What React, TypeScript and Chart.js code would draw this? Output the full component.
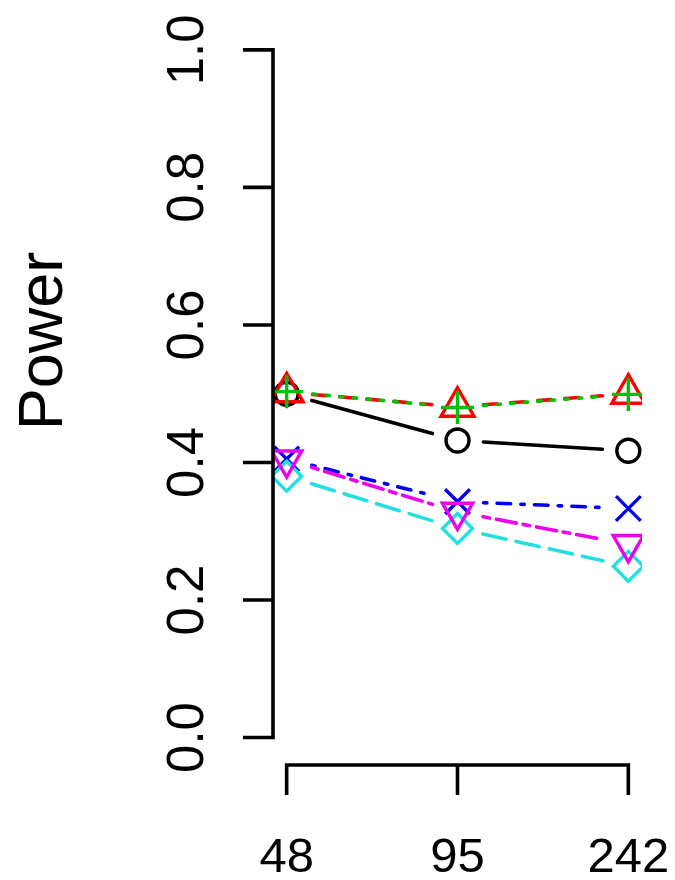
import { useEffect, useRef } from "react";
import { Chart, registerables } from "chart.js";

Chart.register(...registerables);

// Sample sizes on the x axis (evenly spaced positions 1..3)
const sampleSizes = ["48", "95", "242"];
const yTickValues = [0, 0.2, 0.4, 0.6, 0.8, 1.0];
const yTickLabels = ["0.0", "0.2", "0.4", "0.6", "0.8", "1.0"];
const yTitle = "Power";

// Estimated power per method
const powerCircle = [0.5, 0.432, 0.417];
const powerTriangle = [0.502, 0.481, 0.5];
const powerPlus = [0.503, 0.48, 0.499];
const powerCross = [0.405, 0.343, 0.333];
const powerDiamond = [0.38, 0.304, 0.249];
const powerDownTriangle = [0.404, 0.328, 0.281];

const LINE_WIDTH = 3.6;
const AXIS_WIDTH = 3.6;
const GAP = 26; // space left around each marker, like R's type = "b"
const U = 3.4; // dash unit

const FONT = "'Liberation Sans', Arial, Helvetica, sans-serif";

type Series = {
  label: string;
  values: number[];
  color: string;
  pointStyle: string;
  radius: number;
  rotation: number;
  dash: number[];
};

const series: Series[] = [
  { label: "circle", values: powerCircle, color: "#000000", pointStyle: "circle", radius: 11.5, rotation: 0, dash: [] },
  { label: "triangle", values: powerTriangle, color: "#ff0000", pointStyle: "triangle", radius: 19, rotation: 0, dash: [4 * U, 4 * U] },
  { label: "plus", values: powerPlus, color: "#00c000", pointStyle: "cross", radius: 16.5, rotation: 0, dash: [1 * U, 3 * U] },
  { label: "cross", values: powerCross, color: "#0000ee", pointStyle: "crossRot", radius: 17.5, rotation: 0, dash: [1 * U, 3 * U, 4 * U, 3 * U] },
  { label: "diamond", values: powerDiamond, color: "#22e0e0", pointStyle: "rectRot", radius: 15, rotation: 0, dash: [7 * U, 3 * U] },
  { label: "downTriangle", values: powerDownTriangle, color: "#ee00ee", pointStyle: "triangle", radius: 17.5, rotation: 180, dash: [2 * U, 2 * U, 6 * U, 2 * U] },
];

// Line segments between markers, leaving a gap around each marker
const gapLines = {
  id: "gapLines",
  beforeDatasetDraw(chart: any, args: any) {
    const ds = chart.data.datasets[args.index];
    const pts = args.meta.data;
    const ctx = chart.ctx;
    ctx.save();
    ctx.strokeStyle = ds.borderColor;
    ctx.lineWidth = LINE_WIDTH;
    ctx.lineCap = "round";
    ctx.setLineDash(ds.borderDash || []);
    for (let i = 0; i < pts.length - 1; i++) {
      const a = pts[i];
      const b = pts[i + 1];
      const dx = b.x - a.x;
      const dy = b.y - a.y;
      const len = Math.hypot(dx, dy);
      if (len <= 2 * GAP) continue;
      const ux = dx / len;
      const uy = dy / len;
      ctx.lineDashOffset = 0;
      ctx.beginPath();
      ctx.moveTo(a.x + ux * GAP, a.y + uy * GAP);
      ctx.lineTo(b.x - ux * GAP, b.y - uy * GAP);
      ctx.stroke();
    }
    ctx.restore();
  },
};

// R-style detached axes with rotated y tick labels
const rAxes = {
  id: "rAxes",
  afterDraw(chart: any) {
    const ctx = chart.ctx;
    const xs = chart.scales.x;
    const ys = chart.scales.y;
    const area = chart.chartArea;
    const tick = 30;
    ctx.save();
    ctx.strokeStyle = "#000";
    ctx.fillStyle = "#000";
    ctx.lineWidth = AXIS_WIDTH;
    ctx.lineCap = "butt";
    ctx.setLineDash([]);

    // y axis
    const yx = area.left;
    ctx.beginPath();
    ctx.moveTo(yx, ys.getPixelForValue(yTickValues[0]) + AXIS_WIDTH / 2);
    ctx.lineTo(yx, ys.getPixelForValue(yTickValues[yTickValues.length - 1]) - AXIS_WIDTH / 2);
    yTickValues.forEach((v) => {
      const py = ys.getPixelForValue(v);
      ctx.moveTo(yx, py);
      ctx.lineTo(yx - tick, py);
    });
    ctx.stroke();

    const yFont = 51;
    ctx.font = `${yFont}px ${FONT}`;
    ctx.textAlign = "center";
    ctx.textBaseline = "alphabetic";
    yTickValues.forEach((v, i) => {
      const py = ys.getPixelForValue(v);
      ctx.save();
      ctx.translate(yx - 88, py);
      ctx.rotate(-Math.PI / 2);
      ctx.fillText(yTickLabels[i], 0, 0.358 * yFont);
      ctx.restore();
    });

    // y title
    const tFont = 63;
    ctx.font = `${tFont}px ${FONT}`;
    ctx.save();
    ctx.translate(39, 341);
    ctx.rotate(-Math.PI / 2);
    ctx.fillText(yTitle, 0, 0.358 * tFont);
    ctx.restore();

    // x axis
    const xy = area.bottom;
    const x0 = xs.getPixelForValue(1);
    const x1 = xs.getPixelForValue(sampleSizes.length);
    ctx.beginPath();
    ctx.moveTo(x0 - AXIS_WIDTH / 2, xy);
    ctx.lineTo(x1 + AXIS_WIDTH / 2, xy);
    sampleSizes.forEach((_, i) => {
      const px = xs.getPixelForValue(i + 1);
      ctx.moveTo(px, xy);
      ctx.lineTo(px, xy + tick);
    });
    ctx.stroke();

    const xFont = 49;
    ctx.font = `${xFont}px ${FONT}`;
    sampleSizes.forEach((s, i) => {
      const px = xs.getPixelForValue(i + 1);
      ctx.fillText(s, px, xy + 89 + 0.358 * xFont);
    });
    ctx.restore();
  },
};

export default function App() {
  const canvasRef = useRef<HTMLCanvasElement | null>(null);

  useEffect(() => {
    const canvas = canvasRef.current;
    if (!canvas) return;
    const chart = new Chart(canvas, {
      type: "line",
      data: {
        datasets: series.map((s, i) => ({
          label: s.label,
          data: s.values.map((v, j) => ({ x: j + 1, y: v })),
          borderColor: s.color,
          backgroundColor: "rgba(0,0,0,0)",
          borderDash: s.dash,
          showLine: false,
          pointStyle: s.pointStyle as any,
          pointRadius: s.radius,
          pointRotation: s.rotation,
          pointBorderWidth: 3.4,
          pointBorderColor: s.color,
          pointBackgroundColor: "rgba(0,0,0,0)",
          order: series.length - 1 - i,
        })),
      },
      options: {
        animation: false,
        responsive: false,
        events: [],
        layout: { padding: { left: 273, right: 33, top: 17, bottom: 115 } },
        scales: {
          x: { type: "linear", min: 0.92, max: 3.08, display: false },
          y: { type: "linear", min: -0.04, max: 1.04, display: false },
        },
        plugins: {
          legend: { display: false },
          tooltip: { enabled: false },
        },
      },
      plugins: [gapLines, rAxes],
    });
    return () => chart.destroy();
  }, []);

  return (
    <div style={{ position: "absolute", left: 0, top: 0, width: 675, height: 880, background: "#fff" }}>
      <canvas ref={canvasRef} width={675} height={880} />
    </div>
  );
}
